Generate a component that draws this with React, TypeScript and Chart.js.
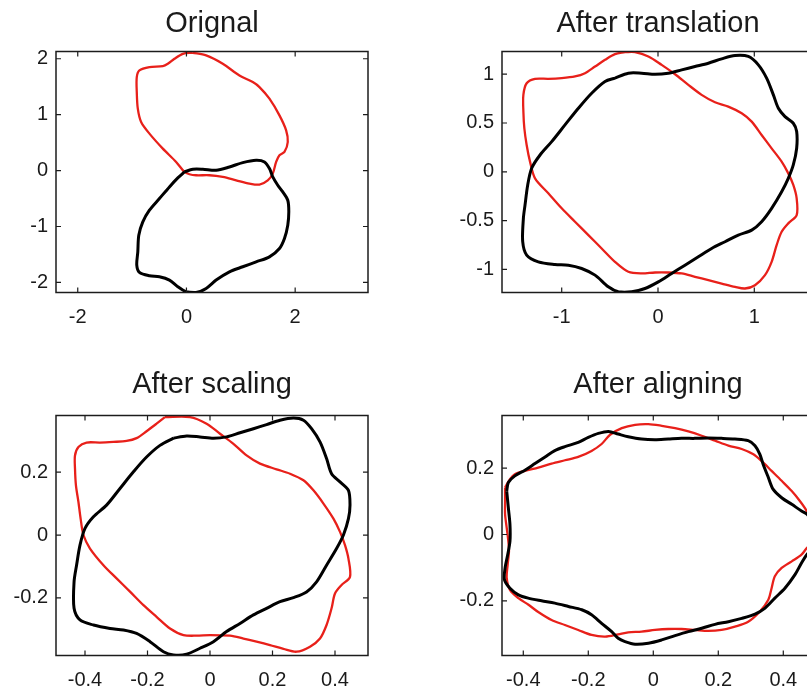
import React, { useEffect, useRef } from "react";
import { Chart, registerables } from "chart.js";

Chart.register(...registerables);

type Pt = [number, number];

// ---------- Titles ----------
const titles = ["Orignal", "After translation", "After scaling", "After aligning"];

// ---------- Tick labels ----------
const origXTicks = [-2, 0, 2];
const origYTicks = [-2, -1, 0, 1, 2];
const transXTicks = [-1, 0, 1];
const transYTicks = [-1, -0.5, 0, 0.5, 1];
const scaleXTicks = [-0.4, -0.2, 0, 0.2, 0.4];
const scaleYTicks = [-0.2, 0, 0.2];
const alignXTicks = [-0.4, -0.2, 0, 0.2, 0.4];
const alignYTicks = [-0.2, 0, 0.2];

// ---------- Axis ranges ----------
const origXRange: Pt = [-2.4, 3.34];
const origYRange: Pt = [-2.18, 2.13];
const transXRange: Pt = [-1.62, 1.62];
const transYRange: Pt = [-1.236, 1.232];
const scaleXRange: Pt = [-0.4928, 0.5056];
const scaleYRange: Pt = [-0.383, 0.38];
const alignXRange: Pt = [-0.4655, 0.4945];
const alignYRange: Pt = [-0.365, 0.359];

// ---------- Series: Original ----------
const origRed: Pt[] = [
  [0.117, 2.107], [0.362, 2.06], [0.668, 1.911], [0.975, 1.702], [1.22, 1.583], [1.343, 1.494],
  [1.527, 1.286], [1.711, 0.988], [1.834, 0.72], [1.864, 0.512], [1.803, 0.333], [1.711, 0.274],
  [1.65, 0.155], [1.588, -0.054], [1.496, -0.173], [1.343, -0.25], [1.159, -0.232], [0.914, -0.173],
  [0.668, -0.113], [0.423, -0.083], [0.178, -0.083], [0.055, -0.065], [-0.037, -0.024], [-0.19, 0.155],
  [-0.435, 0.393], [-0.681, 0.661], [-0.834, 0.869], [-0.895, 1.107], [-0.914, 1.405], [-0.914, 1.673],
  [-0.865, 1.792], [-0.681, 1.851], [-0.435, 1.869], [-0.343, 1.911], [-0.221, 2.0], [-0.067, 2.089],
  [0.117, 2.107],
];
const origBlack: Pt[] = [
  [-0.037, -0.024], [0.117, 0.024], [0.301, 0.024], [0.546, 0.006], [0.791, 0.065], [1.036, 0.143],
  [1.282, 0.185], [1.435, 0.155], [1.527, 0.036], [1.588, -0.113], [1.68, -0.262], [1.772, -0.381],
  [1.864, -0.53], [1.883, -0.738], [1.864, -0.976], [1.803, -1.214], [1.711, -1.393], [1.527, -1.542],
  [1.282, -1.631], [1.036, -1.72], [0.791, -1.81], [0.546, -1.958], [0.362, -2.107], [0.178, -2.179],
  [-0.006, -2.167], [-0.159, -2.077], [-0.313, -1.958], [-0.497, -1.899], [-0.681, -1.881], [-0.865, -1.821],
  [-0.914, -1.69], [-0.895, -1.452], [-0.877, -1.155], [-0.803, -0.917], [-0.681, -0.708], [-0.497, -0.5],
  [-0.313, -0.292], [-0.159, -0.131], [-0.037, -0.024],
];

// ---------- Series: After translation ----------
const transRed: Pt[] = [
  [-0.343, 1.225], [-0.239, 1.225], [-0.1, 1.181], [0.038, 1.095], [0.177, 0.999], [0.315, 0.89],
  [0.453, 0.788], [0.592, 0.712], [0.73, 0.668], [0.869, 0.6], [0.973, 0.514], [1.076, 0.377],
  [1.18, 0.24], [1.284, 0.104], [1.353, -0.016], [1.405, -0.135], [1.44, -0.272], [1.44, -0.443],
  [1.353, -0.528], [1.284, -0.614], [1.232, -0.751], [1.18, -0.922], [1.111, -1.058], [1.007, -1.161],
  [0.903, -1.195], [0.8, -1.178], [0.661, -1.144], [0.523, -1.11], [0.384, -1.075], [0.246, -1.041],
  [0.107, -1.031], [-0.031, -1.031], [-0.17, -1.041], [-0.308, -1.024], [-0.447, -0.922], [-0.585, -0.785],
  [-0.723, -0.648], [-0.862, -0.511], [-1.0, -0.374], [-1.139, -0.22], [-1.277, -0.067], [-1.329, 0.104],
  [-1.364, 0.275], [-1.388, 0.446], [-1.398, 0.617], [-1.398, 0.788], [-1.364, 0.907], [-1.277, 0.952],
  [-1.139, 0.952], [-1.0, 0.959], [-0.862, 0.976], [-0.758, 1.01], [-0.654, 1.078], [-0.55, 1.147],
  [-0.447, 1.205], [-0.343, 1.225],
];
const transBlack: Pt[] = [
  [-0.447, 0.959], [-0.308, 1.01], [-0.17, 1.01], [-0.031, 0.999], [0.107, 1.01], [0.246, 1.044],
  [0.384, 1.078], [0.523, 1.112], [0.661, 1.157], [0.8, 1.191], [0.938, 1.181], [1.042, 1.095],
  [1.128, 0.959], [1.198, 0.788], [1.25, 0.651], [1.319, 0.565], [1.405, 0.497], [1.44, 0.412],
  [1.44, 0.241], [1.405, 0.07], [1.353, -0.067], [1.284, -0.204], [1.18, -0.374], [1.076, -0.511],
  [0.973, -0.597], [0.834, -0.648], [0.696, -0.716], [0.557, -0.785], [0.419, -0.87], [0.28, -0.956],
  [0.142, -1.041], [0.003, -1.127], [-0.135, -1.195], [-0.273, -1.229], [-0.412, -1.229], [-0.516, -1.178],
  [-0.654, -1.058], [-0.793, -0.99], [-0.931, -0.956], [-1.07, -0.949], [-1.243, -0.922], [-1.364, -0.853],
  [-1.405, -0.716], [-1.398, -0.477], [-1.381, -0.341], [-1.353, -0.135], [-1.312, 0.036], [-1.225, 0.172],
  [-1.104, 0.309], [-0.966, 0.48], [-0.827, 0.651], [-0.689, 0.805], [-0.55, 0.925], [-0.447, 0.959],
];

// ---------- Series: After scaling ----------
const scaleRed: Pt[] = [
  [-0.144, 0.375], [-0.064, 0.375], [-0.011, 0.354], [0.032, 0.322], [0.075, 0.29], [0.117, 0.253],
  [0.16, 0.227], [0.213, 0.209], [0.256, 0.195], [0.299, 0.174], [0.331, 0.142], [0.363, 0.1],
  [0.395, 0.052], [0.416, 0.01], [0.432, -0.032], [0.443, -0.075], [0.448, -0.133], [0.421, -0.159],
  [0.4, -0.186], [0.389, -0.233], [0.373, -0.286], [0.352, -0.329], [0.32, -0.355], [0.277, -0.371],
  [0.235, -0.362], [0.192, -0.35], [0.149, -0.339], [0.107, -0.329], [0.064, -0.32], [0.0, -0.318],
  [-0.043, -0.32], [-0.085, -0.318], [-0.128, -0.297], [-0.171, -0.26], [-0.213, -0.223], [-0.256, -0.18],
  [-0.299, -0.138], [-0.341, -0.096], [-0.384, -0.043], [-0.405, 0.0], [-0.414, 0.052], [-0.421, 0.105],
  [-0.429, 0.158], [-0.432, 0.211], [-0.432, 0.253], [-0.421, 0.28], [-0.395, 0.294], [-0.352, 0.294],
  [-0.309, 0.296], [-0.267, 0.299], [-0.235, 0.308], [-0.203, 0.33], [-0.171, 0.354], [-0.144, 0.375],
];
const scaleBlack: Pt[] = [
  [-0.117, 0.308], [-0.075, 0.315], [-0.032, 0.312], [0.011, 0.308], [0.053, 0.312], [0.096, 0.325],
  [0.139, 0.338], [0.181, 0.351], [0.224, 0.365], [0.267, 0.372], [0.299, 0.365], [0.325, 0.338],
  [0.352, 0.296], [0.373, 0.243], [0.389, 0.195], [0.416, 0.169], [0.443, 0.142], [0.448, 0.095],
  [0.443, 0.052], [0.427, 0.0], [0.405, -0.043], [0.373, -0.096], [0.341, -0.149], [0.309, -0.181],
  [0.267, -0.199], [0.224, -0.212], [0.181, -0.233], [0.139, -0.254], [0.096, -0.281], [0.053, -0.307],
  [0.011, -0.339], [-0.032, -0.36], [-0.075, -0.379], [-0.117, -0.381], [-0.149, -0.371], [-0.192, -0.339],
  [-0.235, -0.313], [-0.277, -0.302], [-0.32, -0.297], [-0.373, -0.286], [-0.416, -0.27], [-0.435, -0.233],
  [-0.435, -0.149], [-0.427, -0.096], [-0.416, -0.032], [-0.4, 0.021], [-0.373, 0.058], [-0.331, 0.095],
  [-0.288, 0.148], [-0.245, 0.201], [-0.203, 0.248], [-0.16, 0.285], [-0.117, 0.308],
];

// ---------- Series: After aligning ----------
const alignRed: Pt[] = [
  [-0.456, 0.142], [-0.441, 0.167], [-0.426, 0.182], [-0.395, 0.192], [-0.354, 0.202], [-0.313, 0.214],
  [-0.272, 0.224], [-0.231, 0.234], [-0.19, 0.252], [-0.159, 0.273], [-0.133, 0.301], [-0.097, 0.321],
  [-0.056, 0.331], [-0.015, 0.333], [0.026, 0.328], [0.067, 0.321], [0.108, 0.311], [0.149, 0.298],
  [0.19, 0.283], [0.231, 0.268], [0.272, 0.258], [0.308, 0.242], [0.333, 0.222], [0.364, 0.192],
  [0.395, 0.162], [0.426, 0.131], [0.451, 0.101], [0.472, 0.071], [0.492, 0.03], [0.495, 0.0],
  [0.487, -0.03], [0.473, -0.04], [0.456, -0.061], [0.426, -0.081], [0.395, -0.101], [0.374, -0.126],
  [0.364, -0.162], [0.354, -0.197], [0.328, -0.232], [0.292, -0.263], [0.251, -0.278], [0.21, -0.288],
  [0.169, -0.291], [0.128, -0.288], [0.087, -0.285], [0.046, -0.285], [0.005, -0.288], [-0.036, -0.293],
  [-0.077, -0.295], [-0.108, -0.301], [-0.148, -0.308], [-0.19, -0.303], [-0.231, -0.288], [-0.272, -0.273],
  [-0.313, -0.258], [-0.354, -0.234], [-0.384, -0.212], [-0.415, -0.192], [-0.441, -0.167], [-0.451, -0.131],
  [-0.448, -0.091], [-0.444, -0.05], [-0.446, -0.02], [-0.451, 0.02], [-0.456, 0.061], [-0.456, 0.101],
  [-0.456, 0.142],
];
const alignBlack: Pt[] = [
  [-0.451, 0.131], [-0.446, 0.157], [-0.426, 0.177], [-0.395, 0.194], [-0.364, 0.214], [-0.333, 0.234],
  [-0.303, 0.253], [-0.272, 0.265], [-0.231, 0.278], [-0.2, 0.293], [-0.169, 0.305], [-0.138, 0.311],
  [-0.108, 0.303], [-0.077, 0.295], [-0.036, 0.288], [0.005, 0.286], [0.046, 0.288], [0.087, 0.29],
  [0.128, 0.29], [0.169, 0.291], [0.21, 0.29], [0.251, 0.288], [0.292, 0.283], [0.313, 0.268],
  [0.328, 0.242], [0.338, 0.212], [0.354, 0.172], [0.369, 0.136], [0.395, 0.111], [0.426, 0.091],
  [0.456, 0.071], [0.473, 0.061], [0.492, 0.035], [0.5, -0.005], [0.487, -0.045], [0.473, -0.06],
  [0.456, -0.086], [0.436, -0.121], [0.405, -0.162], [0.374, -0.192], [0.344, -0.222], [0.313, -0.24],
  [0.272, -0.253], [0.231, -0.263], [0.19, -0.271], [0.149, -0.283], [0.108, -0.293], [0.067, -0.305],
  [0.026, -0.318], [-0.015, -0.328], [-0.056, -0.331], [-0.087, -0.323], [-0.108, -0.313], [-0.128, -0.293],
  [-0.159, -0.268], [-0.19, -0.242], [-0.22, -0.227], [-0.261, -0.217], [-0.303, -0.207], [-0.344, -0.2],
  [-0.385, -0.192], [-0.415, -0.182], [-0.441, -0.162], [-0.458, -0.136], [-0.456, -0.101], [-0.448, -0.061],
  [-0.441, -0.02], [-0.441, 0.03], [-0.446, 0.081], [-0.451, 0.131],
];

// ---------- Styling ----------
const FONT = "'Liberation Sans', Arial, Helvetica, sans-serif";
const RED = "rgb(232, 32, 26)";
const BLACK = "#000000";
const AXIS = "#1c1c1c";

type PanelCfg = {
  title: string;
  red: Pt[];
  black: Pt[];
  xRange: Pt;
  yRange: Pt;
  xTicks: number[];
  yTicks: number[];
  left: number;
  top: number;
  width: number;
  height: number;
  titleTop: number;
  titleBottom: number;
};

const boxPlugin = {
  id: "matlabBox",
  afterDatasetsDraw(chart: any) {
    const { ctx, chartArea: a, scales } = chart;
    ctx.save();
    ctx.strokeStyle = AXIS;
    ctx.lineWidth = 1.5;
    ctx.strokeRect(a.left, a.top, a.right - a.left, a.bottom - a.top);
    ctx.lineWidth = 1.2;
    const len = 5;
    ctx.beginPath();
    scales.x.ticks.forEach((_t: any, i: number) => {
      const px = scales.x.getPixelForTick(i);
      ctx.moveTo(px, a.bottom);
      ctx.lineTo(px, a.bottom - len);
      ctx.moveTo(px, a.top);
      ctx.lineTo(px, a.top + len);
    });
    scales.y.ticks.forEach((_t: any, i: number) => {
      const py = scales.y.getPixelForTick(i);
      ctx.moveTo(a.left, py);
      ctx.lineTo(a.left + len, py);
      ctx.moveTo(a.right, py);
      ctx.lineTo(a.right - len, py);
    });
    ctx.stroke();
    ctx.restore();
  },
};

function Panel({ cfg }: { cfg: PanelCfg }) {
  const ref = useRef<HTMLCanvasElement>(null);
  useEffect(() => {
    if (!ref.current) return;
    const toXY = (arr: Pt[]) => arr.map(([x, y]) => ({ x, y }));
    const chart = new Chart(ref.current, {
      type: "scatter",
      data: {
        datasets: [
          {
            label: "red",
            data: toXY(cfg.red),
            showLine: true,
            borderColor: RED,
            borderWidth: 2.3,
            pointRadius: 0,
            tension: 0.3,
            order: 1,
          },
          {
            label: "black",
            data: toXY(cfg.black),
            showLine: true,
            borderColor: BLACK,
            borderWidth: 3,
            pointRadius: 0,
            tension: 0.3,
            order: 0,
          },
        ],
      },
      options: {
        responsive: false,
        animation: false,
        events: [],
        layout: { padding: 0 },
        plugins: {
          legend: { display: false },
          tooltip: { enabled: false },
          title: {
            display: true,
            text: cfg.title,
            color: "#1a1a1a",
            font: { family: FONT, size: 29, weight: "normal", lineHeight: 1.2 },
            padding: { top: cfg.titleTop, bottom: cfg.titleBottom },
          },
        },
        scales: {
          x: {
            type: "linear",
            position: "bottom",
            min: cfg.xRange[0],
            max: cfg.xRange[1],
            grid: { display: false, drawTicks: false },
            border: { display: false },
            afterBuildTicks: (s: any) => {
              s.ticks = cfg.xTicks.map((v) => ({ value: v }));
            },
            afterFit: (s: any) => {
              s.height = 45.5;
            },
            ticks: {
              autoSkip: false,
              maxRotation: 0,
              padding: 13,
              color: "#1a1a1a",
              font: { family: FONT, size: 20 },
              callback: (v: any) => String(v),
            },
          },
          y: {
            type: "linear",
            position: "left",
            min: cfg.yRange[0],
            max: cfg.yRange[1],
            grid: { display: false, drawTicks: false },
            border: { display: false },
            afterBuildTicks: (s: any) => {
              s.ticks = cfg.yTicks.map((v) => ({ value: v }));
            },
            afterFit: (s: any) => {
              s.width = 56;
            },
            ticks: {
              autoSkip: false,
              padding: 8,
              color: "#1a1a1a",
              font: { family: FONT, size: 20 },
              callback: (v: any) => String(v),
            },
          },
          // empty right-hand spacer so the axes box sits centred under the title
          yRight: {
            type: "linear",
            position: "right",
            min: 0,
            max: 1,
            grid: { display: false, drawTicks: false },
            border: { display: false },
            ticks: { display: false },
            afterFit: (s: any) => {
              s.width = 56;
            },
          },
        },
      },
      plugins: [boxPlugin],
    } as any);
    return () => chart.destroy();
  }, [cfg]);
  return (
    <canvas
      ref={ref}
      width={cfg.width}
      height={cfg.height}
      style={{ position: "absolute", left: cfg.left, top: cfg.top, width: cfg.width, height: cfg.height }}
    />
  );
}

const panels: PanelCfg[] = [
  {
    title: titles[0], red: origRed, black: origBlack, xRange: origXRange, yRange: origYRange,
    xTicks: origXTicks, yTicks: origYTicks, left: 0, top: 0, width: 424, height: 338, titleTop: 6.5, titleBottom: 10.2,
  },
  {
    title: titles[1], red: transRed, black: transBlack, xRange: transXRange, yRange: transYRange,
    xTicks: transXTicks, yTicks: transYTicks, left: 446, top: 0, width: 424, height: 338, titleTop: 6.5, titleBottom: 10.2,
  },
  {
    title: titles[2], red: scaleRed, black: scaleBlack, xRange: scaleXRange, yRange: scaleYRange,
    xTicks: scaleXTicks, yTicks: scaleYTicks, left: 0, top: 360, width: 424, height: 341, titleTop: 7.5, titleBottom: 13.2,
  },
  {
    title: titles[3], red: alignRed, black: alignBlack, xRange: alignXRange, yRange: alignYRange,
    xTicks: alignXTicks, yTicks: alignYTicks, left: 446, top: 360, width: 424, height: 341, titleTop: 7.5, titleBottom: 13.2,
  },
];

export default function App() {
  return (
    <div
      style={{
        position: "fixed",
        left: 0,
        top: 0,
        width: 807,
        height: 690,
        overflow: "hidden",
        background: "#ffffff",
      }}
    >
      {panels.map((p, i) => (
        <Panel key={i} cfg={p} />
      ))}
    </div>
  );
}
